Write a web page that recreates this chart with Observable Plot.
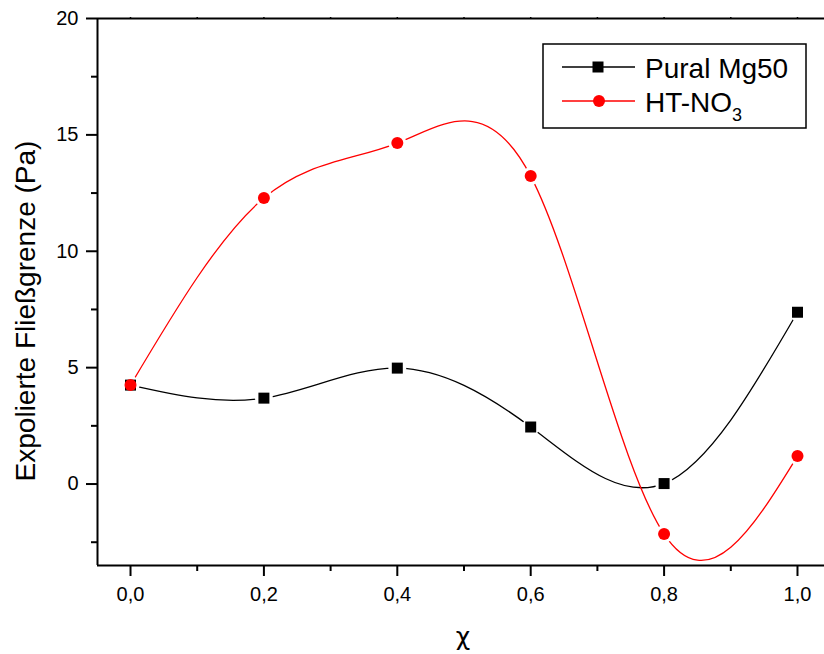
<!DOCTYPE html>
<html>
<head>
<meta charset="utf-8">
<script src="https://cdn.jsdelivr.net/npm/d3@7"></script>
<script src="https://cdn.jsdelivr.net/npm/@observablehq/plot@0.6"></script>
<style>
  html, body { margin: 0; padding: 0; background: white; }
  #chart { width: 824px; height: 654px; }
</style>
</head>
<body>
<div id="chart"></div>
<script>
// ---- Data ----
const chi = [0, 0.2, 0.4, 0.6, 0.8, 1.0];
const puralMg50 = [4.25, 3.69, 4.98, 2.45, 0.02, 7.38];
const htNO3 = [4.25, 12.29, 14.65, 13.23, -2.15, 1.2];
const seriesNames = ["Pural Mg50", "HT-NO", "3"];
const xMajorTicks = [0, 0.2, 0.4, 0.6, 0.8, 1.0];
const xMinorTicks = [0.1, 0.3, 0.5, 0.7, 0.9];
const yMajorTicks = [0, 5, 10, 15, 20];
const yMinorTicks = [-2.5, 2.5, 7.5, 12.5, 17.5];
const xLabel = "χ";
const yLabel = "Expolierte Fließgrenze (Pa)";

const rows = chi.map((x, i) => ({x, pural: puralMg50[i], ht: htNO3[i]}));
const fmtX = d => d.toFixed(1).replace(".", ",");
const font = "'Liberation Sans', Arial, sans-serif";
const xDomain = [-0.0495, 1.0405];
const yDomain = [-3.5, 20];

const chart = Plot.plot({
  width: 824,
  height: 654,
  marginLeft: 97,
  marginRight: 0,
  marginTop: 18,
  marginBottom: 89,
  x: {domain: xDomain},
  y: {domain: yDomain},
  style: {fontFamily: font, fontSize: "20px", color: "black", background: "white"},
  marks: [
    Plot.axisX({ticks: xMajorTicks, tickSize: 11, tickPadding: 10, tickFormat: fmtX, label: null, fontSize: 20, strokeWidth: 2}),
    Plot.axisX({ticks: xMinorTicks, tickSize: 6, tickFormat: () => "", label: null, strokeWidth: 2}),
    Plot.axisX({anchor: "top", ticks: xMajorTicks.concat(xMinorTicks), tickSize: 2, tickFormat: () => "", label: null, strokeWidth: 1.5}),
    Plot.axisY({ticks: yMajorTicks, tickSize: 11, tickPadding: 8, tickFormat: d => String(d), label: null, fontSize: 20, strokeWidth: 2}),
    Plot.axisY({ticks: yMinorTicks, tickSize: 6, tickFormat: () => "", label: null, strokeWidth: 2}),
    Plot.ruleX([xDomain[0]], {strokeWidth: 2}),
    Plot.ruleY([yDomain[0]], {strokeWidth: 2}),
    Plot.ruleY([yDomain[1]], {strokeWidth: 2}),
    Plot.line(rows, {x: "x", y: "pural", curve: "natural", stroke: "black", strokeWidth: 1.3}),
    Plot.line(rows, {x: "x", y: "ht", curve: "natural", stroke: "red", strokeWidth: 1.3}),
    Plot.dot(rows, {x: "x", y: "pural", r: 9, fill: "white"}),
    Plot.dot(rows, {x: "x", y: "ht", r: 9, fill: "white"}),
    Plot.dot(rows, {x: "x", y: "pural", symbol: "square", r: 6.2, fill: "black"}),
    Plot.dot(rows, {x: "x", y: "ht", r: 6, fill: "red"})
  ]
});

document.getElementById("chart").appendChild(chart);

// ---- Axis titles and legend ----
const svg = d3.select(chart);
svg.append("text")
  .attr("transform", "translate(35,311) rotate(-90)")
  .attr("text-anchor", "middle")
  .attr("font-family", font).attr("font-size", 28).attr("fill", "black")
  .text(yLabel);
svg.append("text")
  .attr("x", 463).attr("y", 645)
  .attr("text-anchor", "middle")
  .attr("font-family", "'DejaVu Sans', sans-serif").attr("font-size", 25).attr("fill", "black")
  .text(xLabel);

const lg = svg.append("g").attr("text-anchor", "start");
lg.append("rect").attr("x", 543).attr("y", 44).attr("width", 263).attr("height", 84)
  .attr("fill", "white").attr("stroke", "black").attr("stroke-width", 1.5);
lg.append("line").attr("x1", 562).attr("x2", 635).attr("y1", 67).attr("y2", 67)
  .attr("stroke", "black").attr("stroke-width", 1.3);
lg.append("rect").attr("x", 592.5).attr("y", 61.5).attr("width", 11).attr("height", 11).attr("fill", "black");
lg.append("line").attr("x1", 562).attr("x2", 635).attr("y1", 101).attr("y2", 101)
  .attr("stroke", "red").attr("stroke-width", 1.3);
lg.append("circle").attr("cx", 599).attr("cy", 101).attr("r", 6).attr("fill", "red");
lg.append("text").attr("x", 645).attr("y", 78).attr("text-anchor", "start")
  .attr("font-family", font).attr("font-size", 28).attr("fill", "black")
  .text(seriesNames[0]);
const t2 = lg.append("text").attr("x", 645).attr("y", 112).attr("text-anchor", "start")
  .attr("font-family", font).attr("font-size", 28).attr("fill", "black");
t2.append("tspan").text(seriesNames[1]);
t2.append("tspan").attr("font-size", 18).attr("dy", 9).text(seriesNames[2]);
</script>
</body>
</html>
